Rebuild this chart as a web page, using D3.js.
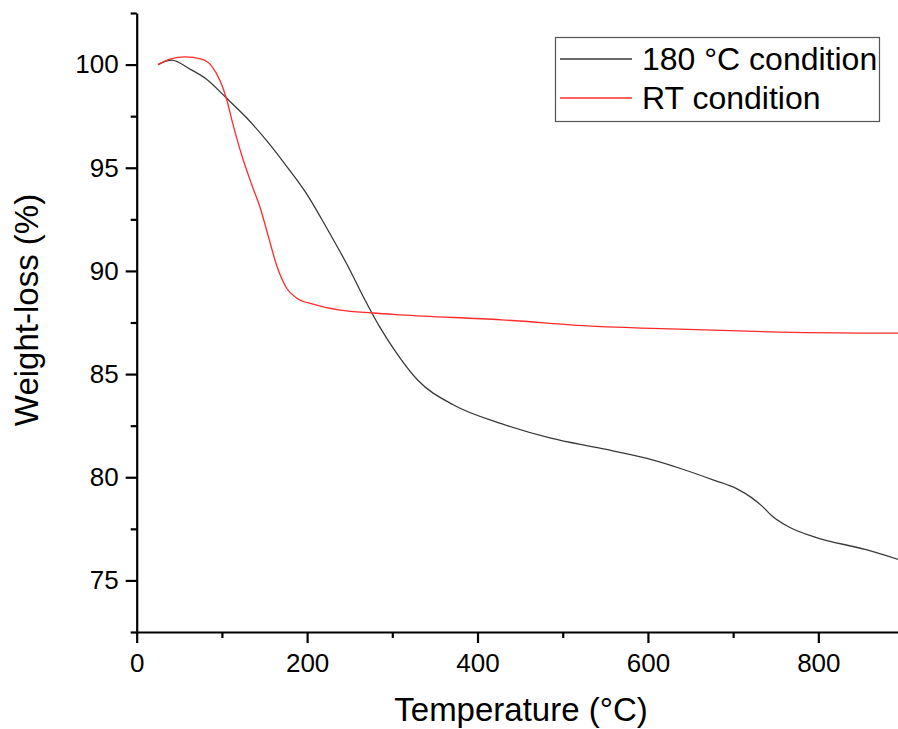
<!DOCTYPE html>
<html>
<head>
<meta charset="utf-8">
<script src="https://cdn.jsdelivr.net/npm/d3@7"></script>
<style>
  html, body { margin: 0; padding: 0; background: #fff; }
  svg { display: block; font-family: "Liberation Sans", Arial, sans-serif; }
</style>
</head>
<body>
<svg id="chart" width="898" height="729"></svg>
<script>
// ---- data ----
const seriesNames = ["180 °C condition", "RT condition"];
const tempHot = [25, 41, 63, 82, 105, 129, 153, 176, 200, 223, 247, 270, 285, 302, 330, 372, 428, 486, 545, 600, 640, 678, 704, 722, 734, 745, 765, 796, 855, 895];
const lossHot = [100.0, 100.22, 99.77, 99.29, 98.39, 97.42, 96.29, 95.07, 93.7, 92.08, 90.3, 88.43, 87.3, 86.2, 84.7, 83.5, 82.6, 81.9, 81.4, 80.9, 80.4, 79.85, 79.45, 79.0, 78.6, 78.15, 77.6, 77.1, 76.5, 76.0];
const tempRT = [25, 39, 57, 76, 88, 98, 105, 113, 123, 135, 145, 155, 164, 176, 188, 207, 239, 277, 310, 428, 545, 604, 741, 895];
const lossRT = [100.0, 100.26, 100.37, 100.26, 99.93, 99.2, 98.39, 97.1, 95.64, 94.18, 93.05, 91.6, 90.3, 89.16, 88.68, 88.39, 88.1, 87.96, 87.87, 87.63, 87.3, 87.22, 87.05, 86.98];
const xMajorTicks = [0, 200, 400, 600, 800];
const xMinorTicks = [100, 300, 500, 700];
const yMajorTicks = [75, 80, 85, 90, 95, 100];
const yMinorTicks = [72.5, 77.5, 82.5, 87.5, 92.5, 97.5, 102.5];
const xTitle = "Temperature (°C)";
const yTitle = "Weight-loss (%)";
const colors = ["#3a3a3a", "#ff2a2a"];

(function () {
// ---- layout ----
const svg = d3.select("#chart");
const mLeft = 136.7, mRight = 898, mTop = 13, mBottom = 632;
const x = d3.scaleLinear().domain([0, 893.5]).range([mLeft, mRight]);
const y = d3.scaleLinear().domain([72.5, 102.5]).range([mBottom, mTop]);

// lines
const line = d3.line().x(d => x(d[0])).y(d => y(d[1])).curve(d3.curveMonotoneX);
const dataHot = tempHot.map((t, i) => [t, lossHot[i]]);
const dataRT = tempRT.map((t, i) => [t, lossRT[i]]);
svg.append("path").datum(dataHot).attr("d", line)
  .attr("fill", "none").attr("stroke", colors[0]).attr("stroke-width", 1.3);
svg.append("path").datum(dataRT).attr("d", line)
  .attr("fill", "none").attr("stroke", colors[1]).attr("stroke-width", 1.3);

// axes
const axisStyle = g => {
  g.selectAll(".domain").attr("stroke", "#000").attr("stroke-width", 2.2);
  g.selectAll(".tick line").attr("stroke", "#000").attr("stroke-width", 2.2);
  g.selectAll("text").attr("fill", "#000").style("font-size", "26px")
    .style("font-family", "'Liberation Sans', Arial, sans-serif");
};
// minor ticks
svg.append("g").attr("transform", `translate(0,${mBottom})`)
  .call(d3.axisBottom(x).tickValues(xMinorTicks).tickSize(6).tickFormat(""))
  .call(g => g.select(".domain").remove())
  .call(axisStyle);
svg.append("g").attr("transform", `translate(${mLeft},0)`)
  .call(d3.axisLeft(y).tickValues(yMinorTicks).tickSize(6).tickFormat(""))
  .call(g => g.select(".domain").remove())
  .call(axisStyle);
// major
svg.append("g").attr("transform", `translate(0,${mBottom})`)
  .call(d3.axisBottom(x).tickValues(xMajorTicks).tickSize(11).tickSizeOuter(0).tickPadding(11).tickFormat(d3.format("d")))
  .call(axisStyle);
svg.append("g").attr("transform", `translate(${mLeft},0)`)
  .call(d3.axisLeft(y).tickValues(yMajorTicks).tickSize(11).tickSizeOuter(0).tickPadding(7).tickFormat(d3.format("d")))
  .call(axisStyle);

// titles
svg.append("text").attr("x", 521).attr("y", 721).attr("text-anchor", "middle")
  .style("font-size", "33px").attr("fill", "#000").text(xTitle);
svg.append("text").attr("transform", "translate(38,310) rotate(-90)").attr("text-anchor", "middle")
  .style("font-size", "33px").attr("fill", "#000").text(yTitle);

// legend
const lg = svg.append("g");
lg.append("rect").attr("x", 555.5).attr("y", 37.5).attr("width", 324).attr("height", 84)
  .attr("fill", "#fff").attr("stroke", "#555").attr("stroke-width", 1.2);
const legendY = [59, 98];
seriesNames.forEach((name, i) => {
  lg.append("line").attr("x1", 560).attr("x2", 632).attr("y1", legendY[i]).attr("y2", legendY[i])
    .attr("stroke", colors[i]).attr("stroke-width", 1.3);
  lg.append("text").attr("x", 642).attr("y", legendY[i] + 11).style("font-size", "32px")
    .attr("fill", "#000").text(name);
});
})();
</script>
</body>
</html>
